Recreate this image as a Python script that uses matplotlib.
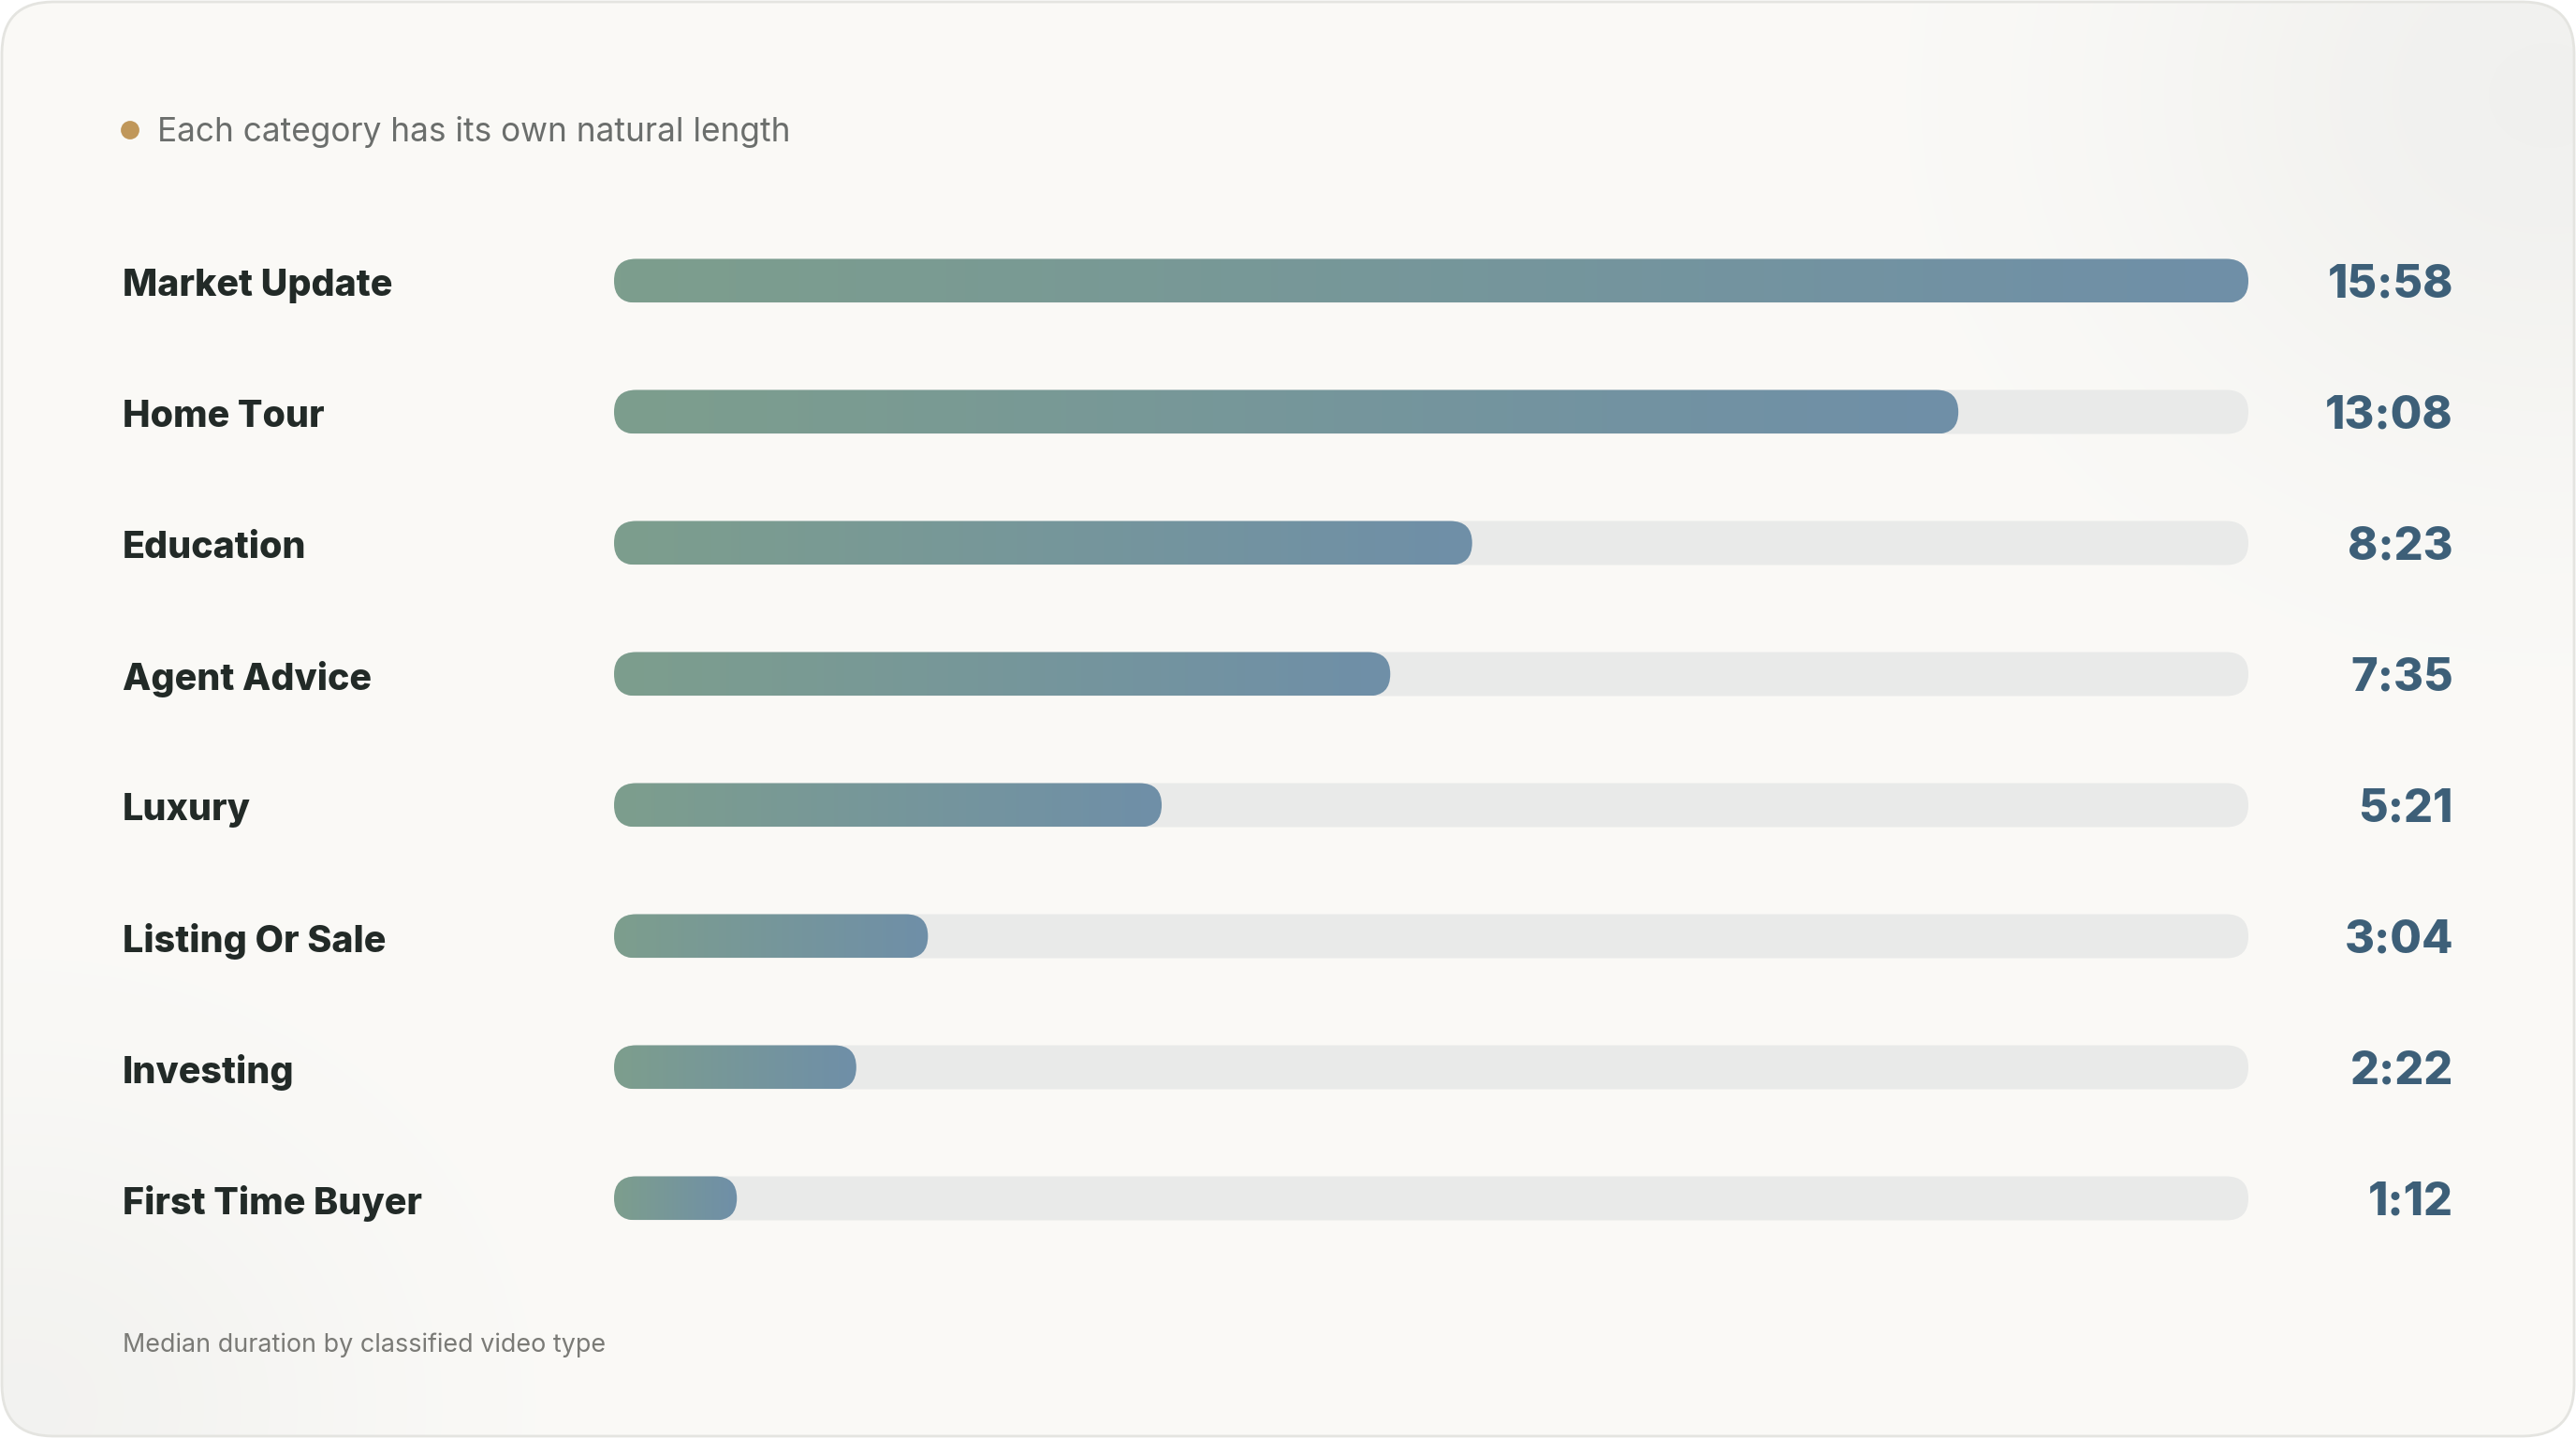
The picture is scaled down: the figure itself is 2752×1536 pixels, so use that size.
import numpy as np
import matplotlib
matplotlib.use("Agg")
from matplotlib import pyplot as plt
from matplotlib import transforms
from matplotlib.patches import FancyBboxPatch, Circle
from matplotlib.colors import LinearSegmentedColormap

plt.rcParams['font.family'] = ['Inter', 'DejaVu Sans']

# data: median duration (seconds) per classified video type
categories = ["Market Update", "Home Tour", "Education", "Agent Advice",
              "Luxury", "Listing Or Sale", "Investing", "First Time Buyer"]
seconds = [958, 788, 503, 455, 321, 184, 142, 72]

subtitle = "Each category has its own natural length"
footnote = "Median duration by classified video type"

W, H, DPI = 2752, 1536, 200
fig = plt.figure(figsize=(W / DPI, H / DPI), dpi=DPI, facecolor="white")

# background card in pixel space
bg = fig.add_axes([0, 0, 1, 1])
bg.set_xlim(0, W)
bg.set_ylim(H, 0)
bg.axis("off")

card = FancyBboxPatch((2, 2), W - 4, H - 4,
                      boxstyle="round,pad=0,rounding_size=55",
                      facecolor="none", edgecolor="#e4e4e0", lw=1.0, zorder=3)
bg.add_patch(card)

yy, xx = np.mgrid[0:H:4, 0:W:4]
base = np.array([251, 250, 247]) / 255.0
shade = (0.040 * np.exp(-(((xx - 2720) / 450.0) ** 2 + ((yy - 100) / 400.0) ** 2))
         + 0.032 * np.exp(-(((xx - 20) / 380.0) ** 2 + ((yy - 1500) / 330.0) ** 2)))
img = np.clip(base[None, None, :] - shade[..., None] * np.array([1.0, 0.9, 0.8]), 0, 1)
im = bg.imshow(img, extent=(0, W, H, 0), zorder=1, interpolation="bilinear")
im.set_clip_path(card)

# bar axes: x in seconds, one row per category
n = len(categories)
track_l, track_r = 656, 2402
top_px, row_px = 230, 140
ax = fig.add_axes([track_l / W, 1 - (top_px + row_px * n) / H,
                   (track_r - track_l) / W, row_px * n / H])
vmax = max(seconds)
ax.set_xlim(0, vmax)
ax.set_ylim(n - 0.5, -0.5)
ax.axis("off")

px_x = (track_r - track_l) / vmax      # px per second
bar_h = 47 / row_px                    # bar thickness in row units
r_x = 23.5 / px_x                      # corner radius in seconds
aspect = (23.5 / row_px) / r_x

grad = LinearSegmentedColormap.from_list("bar", ["#7d9e8d", "#6f8fa8"])
ramp = np.linspace(0, 1, 256)[None, :]

lab_tr = transforms.blended_transform_factory(fig.transFigure, ax.transData)

for i, (name, s) in enumerate(zip(categories, seconds)):
    track = FancyBboxPatch((0, i - bar_h / 2), vmax, bar_h,
                           boxstyle=f"round,pad=0,rounding_size={r_x}",
                           mutation_aspect=aspect,
                           facecolor="#e9eae9", edgecolor="none", zorder=2)
    ax.add_patch(track)
    bar = FancyBboxPatch((0, i - bar_h / 2), s, bar_h,
                         boxstyle=f"round,pad=0,rounding_size={r_x}",
                         mutation_aspect=aspect,
                         facecolor="none", edgecolor="none", zorder=3)
    ax.add_patch(bar)
    g = ax.imshow(ramp, cmap=grad, aspect="auto", zorder=3,
                  extent=(0, s, i + bar_h / 2, i - bar_h / 2))
    g.set_clip_path(bar)

    ax.text(131 / W, i + 0.01, name, transform=lab_tr, ha="left", va="center_baseline",
            fontsize=14.2, fontweight=800, color="#222a27")
    ax.text(2621 / W, i, f"{s // 60}:{s % 60:02d}", transform=lab_tr,
            ha="right", va="center_baseline",
            fontsize=17.5, fontweight=800, color="#3d5f78")

ax.set_xlim(0, vmax)
ax.set_ylim(n - 0.5, -0.5)

# header and footer
bg.add_patch(Circle((139, 139), 8.5, color="#c0975a", zorder=4))
bg.text(168, 138, subtitle, ha="left", va="center_baseline",
        fontsize=12.7, color="#6b6e6c", zorder=4)
bg.text(131, 1434, footnote, ha="left", va="center_baseline",
        fontsize=9.7, color="#7a7a76", zorder=4)

fig.savefig("out.png", dpi=DPI, facecolor="white")
